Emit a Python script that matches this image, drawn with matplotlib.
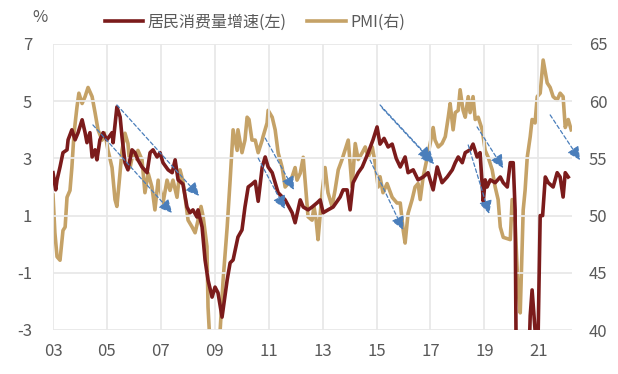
import numpy as np
import matplotlib
matplotlib.use('Agg')
import matplotlib.pyplot as plt

plt.rcParams['font.family'] = ['Noto Sans CJK SC', 'DejaVu Sans']
plt.rcParams['axes.unicode_minus'] = False

# 居民消费量增速 (左轴, %), decimal years
cons_t = [2003.00, 2003.10, 2003.15, 2003.26, 2003.37, 2003.52, 2003.56, 2003.70, 2003.82, 2003.93,
          2004.08, 2004.19, 2004.26, 2004.37, 2004.45, 2004.56, 2004.63, 2004.74, 2004.86, 2005.00,
          2005.19, 2005.23, 2005.37, 2005.49, 2005.56, 2005.67, 2005.78, 2005.93, 2006.04, 2006.15,
          2006.30, 2006.49, 2006.60, 2006.71, 2006.86, 2006.97, 2007.08, 2007.27, 2007.42, 2007.53,
          2007.64, 2007.82, 2007.97, 2008.08, 2008.19, 2008.34, 2008.38, 2008.53, 2008.64, 2008.75,
          2008.90, 2009.01, 2009.12, 2009.27, 2009.46, 2009.57, 2009.68, 2009.86, 2010.01, 2010.12,
          2010.24, 2010.38, 2010.50, 2010.61, 2010.76, 2010.87, 2010.98, 2011.13, 2011.35, 2011.61,
          2011.87, 2011.98, 2012.17, 2012.28, 2012.46, 2012.61, 2012.80, 2012.91, 2013.02, 2013.20,
          2013.39, 2013.65, 2013.76, 2013.91, 2014.02, 2014.13, 2014.32, 2014.47, 2014.69, 2014.87,
          2015.02, 2015.13, 2015.28, 2015.43, 2015.58, 2015.73, 2015.88, 2016.06, 2016.17, 2016.36,
          2016.54, 2016.73, 2016.91, 2017.10, 2017.25, 2017.43, 2017.62, 2017.81, 2017.92, 2018.03,
          2018.18, 2018.29, 2018.47, 2018.58, 2018.73, 2018.84, 2018.96, 2019.03, 2019.10, 2019.22,
          2019.40, 2019.59, 2019.70, 2019.85, 2019.96, 2020.07, 2020.14, 2020.21, 2020.40, 2020.59,
          2020.70, 2020.77, 2020.88, 2020.96, 2021.07, 2021.16, 2021.26, 2021.37, 2021.55, 2021.70,
          2021.81, 2021.92, 2022.00, 2022.11]
cons_v = [2.5, 1.9, 2.25, 2.7, 3.2, 3.3, 3.65, 4.0, 3.65, 3.9,
          4.35, 3.9, 3.55, 3.9, 3.05, 3.3, 2.95, 3.65, 3.9, 3.65,
          3.9, 3.55, 4.8, 4.45, 3.75, 2.85, 2.6, 3.3, 3.2, 2.95,
          2.7, 2.5, 3.2, 3.3, 3.05, 3.2, 2.85, 2.6, 2.5, 2.95,
          2.25, 2.1, 1.3, 1.1, 1.2, 0.95, 1.2, 0.6, -0.55, -1.25,
          -1.85, -1.5, -1.7, -2.55, -1.25, -0.65, -0.55, 0.25, 0.5, 1.3,
          2.0, 2.1, 2.2, 1.5, 2.7, 3.05, 2.7, 2.5, 1.8, 1.55,
          1.1, 0.75, 1.55, 1.3, 1.2, 1.3, 1.45, 1.55, 1.1, 1.2,
          1.3, 1.65, 1.9, 1.9, 1.2, 2.15, 2.5, 2.7, 3.2, 3.65,
          4.1, 3.5, 3.7, 3.4, 3.5, 3.0, 2.7, 3.05, 2.5, 2.6,
          2.25, 2.35, 2.5, 1.9, 2.7, 2.15, 2.35, 2.6, 2.85, 3.05,
          2.85, 3.2, 3.3, 3.5, 3.05, 3.2, 1.5, 2.25, 2.0, 2.25,
          2.15, 2.35, 2.15, 2.0, 2.85, 2.85, 1.2, -8.0, -10.0, -6.0,
          -2.5, -1.6, -3.0, -5.0, 1.0, 1.0, 2.35, 2.15, 2.0, 2.5,
          2.35, 1.65, 2.5, 2.35]

# PMI (右轴)
pmi_t = [2003.00, 2003.07, 2003.15, 2003.26, 2003.37, 2003.45, 2003.52, 2003.63, 2003.70, 2003.78,
         2003.89, 2003.96, 2004.08, 2004.19, 2004.30, 2004.45, 2004.56, 2004.67, 2004.82, 2004.93,
         2005.04, 2005.19, 2005.30, 2005.37, 2005.45, 2005.56, 2005.67, 2005.78, 2005.86, 2005.97,
         2006.12, 2006.15, 2006.30, 2006.41, 2006.53, 2006.67, 2006.78, 2006.90, 2007.04, 2007.08,
         2007.23, 2007.34, 2007.45, 2007.60, 2007.71, 2007.82, 2007.90, 2008.01, 2008.16, 2008.27,
         2008.38, 2008.49, 2008.57, 2008.71, 2008.75, 2008.83, 2008.97, 2009.12, 2009.20, 2009.31,
         2009.46, 2009.57, 2009.68, 2009.83, 2009.86, 2010.01, 2010.12, 2010.20, 2010.27, 2010.38,
         2010.50, 2010.61, 2010.76, 2010.79, 2010.94, 2010.98, 2011.13, 2011.24, 2011.35, 2011.50,
         2011.61, 2011.72, 2011.87, 2011.98, 2012.05, 2012.17, 2012.28, 2012.35, 2012.46, 2012.61,
         2012.68, 2012.76, 2012.83, 2012.98, 2013.09, 2013.20, 2013.35, 2013.46, 2013.58, 2013.72,
         2013.83, 2013.95, 2014.09, 2014.21, 2014.32, 2014.47, 2014.58, 2014.69, 2014.84, 2014.95,
         2015.06, 2015.13, 2015.24, 2015.39, 2015.58, 2015.76, 2015.88, 2015.99, 2016.06, 2016.17,
         2016.32, 2016.43, 2016.54, 2016.62, 2016.73, 2016.88, 2016.99, 2017.10, 2017.17, 2017.29,
         2017.43, 2017.55, 2017.66, 2017.73, 2017.84, 2017.92, 2018.03, 2018.10, 2018.21, 2018.29,
         2018.40, 2018.47, 2018.58, 2018.66, 2018.77, 2018.92, 2019.03, 2019.14, 2019.29, 2019.40,
         2019.51, 2019.59, 2019.70, 2019.96, 2020.03, 2020.14, 2020.25, 2020.33, 2020.40, 2020.44,
         2020.51, 2020.59, 2020.70, 2020.77, 2020.88, 2020.96, 2021.07, 2021.18, 2021.33, 2021.44,
         2021.55, 2021.70, 2021.81, 2021.92, 2022.00, 2022.11, 2022.22]
pmi_v = [51.8, 48.5, 46.4, 46.1, 48.7, 49.0, 51.6, 52.2, 54.2, 57.2,
         59.5, 60.7, 59.8, 60.4, 61.2, 60.4, 59.0, 57.5, 56.6, 57.2,
         55.7, 54.2, 51.4, 50.8, 52.8, 55.7, 57.2, 56.3, 54.2, 55.5,
         54.9, 55.7, 54.9, 52.0, 53.7, 52.5, 50.5, 53.1, 51.6, 51.1,
         53.1, 52.2, 53.1, 51.6, 54.0, 53.0, 51.6, 49.6, 49.0, 48.5,
         49.6, 50.8, 49.9, 47.3, 42.0, 38.5, 37.5, 38.5, 40.0, 44.4,
         49.0, 53.1, 57.5, 55.7, 57.5, 55.5, 56.6, 58.6, 58.4, 56.6,
         56.6, 55.5, 56.6, 56.9, 58.1, 59.2, 58.6, 57.5, 55.5, 54.2,
         52.5, 52.8, 53.4, 54.2, 53.1, 53.7, 55.1, 53.1, 49.9, 49.6,
         50.8, 49.6, 47.9, 52.0, 54.2, 52.0, 50.8, 52.2, 54.0, 54.9,
         55.7, 56.6, 52.5, 56.3, 54.9, 55.5, 56.0, 55.1, 56.0, 54.6,
         52.5, 53.4, 52.0, 52.8, 51.6, 51.1, 51.1, 48.7, 47.6, 50.2,
         51.4, 52.5, 52.8, 51.4, 53.4, 55.1, 56.3, 57.7, 56.6, 56.0,
         56.3, 56.9, 58.6, 59.8, 57.5, 59.0, 59.2, 61.0, 59.2, 58.6,
         60.4, 59.0, 60.4, 58.4, 58.6, 57.5, 55.7, 55.1, 54.0, 52.5,
         51.4, 49.0, 48.1, 47.9, 51.4, 49.4, 43.5, 41.5, 47.3, 50.5,
         52.2, 55.1, 56.9, 58.4, 58.1, 60.4, 60.7, 63.6, 61.6, 61.2,
         60.4, 60.1, 60.7, 60.4, 57.7, 58.4, 57.5]

# 趋势箭头 (起点, 终点), 左轴坐标
arrow_start = [(2005.37, 4.87), (2004.48, 4.17), (2010.87, 3.71), (2010.61, 3.01),
               (2015.13, 4.87), (2015.21, 4.76), (2014.76, 2.94), (2018.40, 3.47),
               (2018.73, 4.10), (2021.44, 4.52)]
arrow_end = [(2008.42, 1.69), (2007.42, 1.09), (2011.94, 1.90), (2011.61, 1.23),
             (2017.03, 2.94), (2017.14, 2.80), (2015.99, 0.50), (2019.18, 1.06),
             (2019.70, 2.66), (2022.55, 2.94)]

left_ticks = [-3, -1, 1, 3, 5, 7]
right_ticks = [40, 45, 50, 55, 60, 65]
year_ticks = [2003, 2005, 2007, 2009, 2011, 2013, 2015, 2017, 2019, 2021]
year_labels = ['03', '05', '07', '09', '11', '13', '15', '17', '19', '21']

red = '#7B1B1B'
tan = '#C5A267'
blue = '#4A7EBB'
txt = '#595959'

fig = plt.figure(figsize=(6.18, 3.74), dpi=100)
ax = fig.add_axes([53/618, 1-330/374, (572-53)/618, (330-44)/374])
ax2 = ax.twinx()

l1, = ax.plot(cons_t, cons_v, color=red, lw=2.6, zorder=3)
l2, = ax2.plot(pmi_t, pmi_v, color=tan, lw=2.6, zorder=2)

ax.set_zorder(ax2.get_zorder() + 1)
ax.patch.set_visible(False)

for s, e in zip(arrow_start, arrow_end):
    ax.annotate('', xy=e, xytext=s, annotation_clip=False,
                arrowprops=dict(arrowstyle='-|>', color=blue, lw=0.9,
                                linestyle=(0, (3, 2)), mutation_scale=20,
                                shrinkA=0, shrinkB=0))

ax.set_xlim(2003, 2022.25)
ax.set_ylim(-3, 7)
ax2.set_ylim(40, 65)
ax.set_xticks(year_ticks)
ax.set_xticklabels(year_labels)
ax.set_yticks(left_ticks)
ax2.set_yticks(right_ticks)

ax.grid(True, color='#E8E8E8', lw=1.3)
ax.set_axisbelow(True)
for a in (ax, ax2):
    for sp in a.spines.values():
        sp.set_visible(False)
ax.tick_params(axis='both', length=0, labelsize=12, colors=txt)
ax.tick_params(axis='y', pad=15)
ax.tick_params(axis='x', pad=9)
ax2.tick_params(axis='y', length=0, labelsize=12, colors=txt, pad=12)

fig.text(40/618, 1-18/374, '%', ha='center', va='center', fontsize=12, color=txt)
fig.legend([l1, l2], ['居民消费量增速(左)', 'PMI(右)'], loc='center',
           bbox_to_anchor=(255/618, 1-22/374), ncol=2, frameon=False,
           fontsize=11.5, handlelength=2.4, handletextpad=0.3, columnspacing=1.3,
           labelcolor=txt)

fig.savefig('out.png', dpi=100)
